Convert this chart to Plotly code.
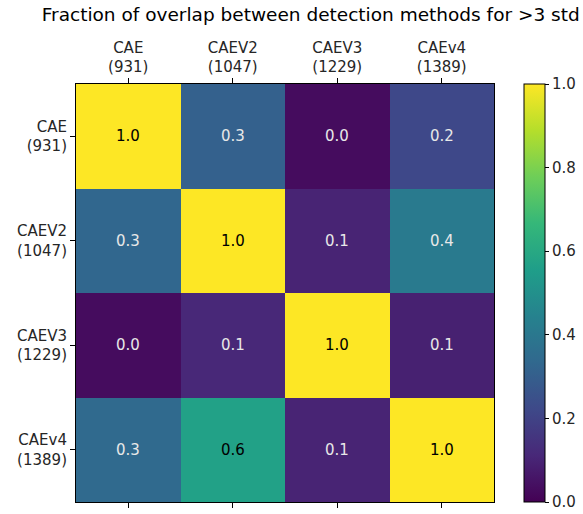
import plotly.graph_objects as go

methods = ["CAE", "CAEV2", "CAEV3", "CAEv4"]
counts = [931, 1047, 1229, 1389]
overlap = [
    [1.00, 0.31, 0.03, 0.22],
    [0.33, 1.00, 0.10, 0.41],
    [0.03, 0.11, 1.00, 0.09],
    [0.34, 0.57, 0.10, 1.00],
]
cbar_ticks = [0.0, 0.2, 0.4, 0.6, 0.8, 1.0]

labels = [f"{m}<br>({c})" for m, c in zip(methods, counts)]
idx = list(range(len(methods)))
FONT = "DejaVu Sans"

fig = go.Figure()
fig.add_trace(go.Heatmap(
    z=overlap, x=idx, y=idx, colorscale="Viridis", zmin=0, zmax=1,
    showscale=True,
    colorbar=dict(
        x=1.0718, xanchor="left", y=0.5, yanchor="middle", len=1.0, lenmode="fraction",
        thickness=21, outlinecolor="black", outlinewidth=1, xpad=0, ypad=0,
        tickvals=cbar_ticks, ticktext=[f"{t:.1f}" for t in cbar_ticks],
        ticks="outside", ticklen=4, tickcolor="black",
        tickfont=dict(family=FONT, size=15, color="#262626"),
    ),
))

for i, row in enumerate(overlap):
    for j, v in enumerate(row):
        fig.add_annotation(x=j, y=i, text=f"{v:.1f}", showarrow=False,
                           font=dict(family=FONT, size=15,
                                     color="black" if v > 0.5 else "#e8e8e8"))

fig.update_layout(
    width=583, height=514,
    margin=dict(l=76, r=89, t=84, b=12, autoexpand=False),
    paper_bgcolor="white", plot_bgcolor="white",
    title=dict(text="Fraction of overlap between detection methods for >3 std",
               x=0.533, xanchor="center", y=0.985, yanchor="top",
               font=dict(family=FONT, size=18.5, color="black")),
    font=dict(family=FONT, size=15, color="#262626"),
)
fig.update_xaxes(side="top", tickvals=idx, ticktext=labels, range=[-0.5, 3.5],
                 showgrid=False, zeroline=False, showline=True, linecolor="black",
                 linewidth=1, mirror="ticks", ticks="outside", ticklen=5, tickcolor="black",
                 automargin=False)
fig.update_yaxes(tickvals=idx, ticktext=labels, range=[3.5, -0.5],
                 showgrid=False, zeroline=False, showline=True, linecolor="black",
                 linewidth=1, mirror=True, ticks="outside", ticklen=5, tickcolor="black",
                 automargin=False)

fig.write_html("out.html")
